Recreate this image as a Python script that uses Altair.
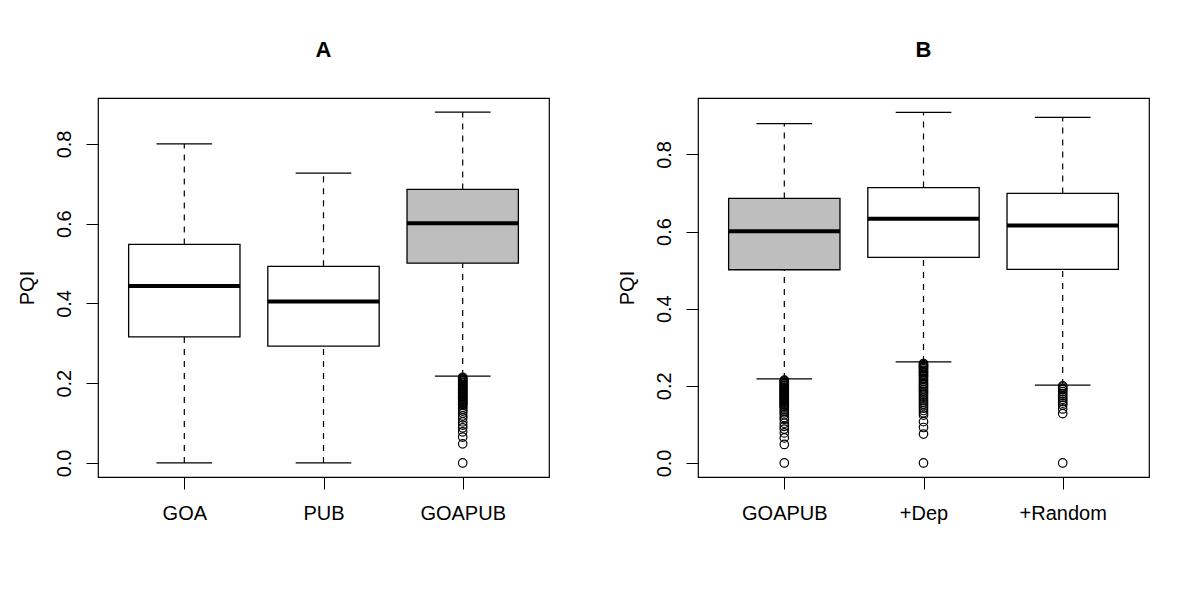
import altair as alt
import pandas as pd

FONT = "Liberation Sans"

# ---- Panel A data ----
cats_a = ["GOA", "PUB", "GOAPUB"]
a_q1 = [0.316, 0.293, 0.501]
a_med = [0.444, 0.405, 0.601]
a_q3 = [0.548, 0.493, 0.686]
a_lo = [0.0, 0.0, 0.218]
a_hi = [0.800, 0.727, 0.880]
a_fill = ["white", "white", "#bebebe"]

# ---- Panel B data ----
cats_b = ["GOAPUB", "+Dep", "+Random"]
b_q1 = [0.501, 0.533, 0.502]
b_med = [0.601, 0.633, 0.616]
b_q3 = [0.686, 0.714, 0.699]
b_lo = [0.218, 0.262, 0.202]
b_hi = [0.880, 0.909, 0.896]
b_fill = ["#bebebe", "white", "white"]

# ---- outliers ----
goapub_out = [0.215, 0.212, 0.210, 0.207, 0.205, 0.202, 0.200, 0.197, 0.195, 0.192,
              0.190, 0.187, 0.185, 0.182, 0.180, 0.177, 0.175, 0.172, 0.170, 0.167,
              0.165, 0.162, 0.160, 0.157, 0.155, 0.152, 0.150, 0.147, 0.145, 0.140,
              0.135, 0.130, 0.125, 0.118, 0.113, 0.103, 0.095, 0.088, 0.078, 0.065,
              0.048, 0.0]
dep_out = [0.258, 0.255, 0.252, 0.250, 0.247, 0.244, 0.240, 0.237, 0.234, 0.230,
           0.227, 0.224, 0.220, 0.216, 0.212, 0.207, 0.203, 0.199, 0.195, 0.190,
           0.186, 0.182, 0.178, 0.173, 0.168, 0.163, 0.158, 0.153, 0.148, 0.142,
           0.136, 0.130, 0.124, 0.107, 0.092, 0.075, 0.0]
rand_out = [0.200, 0.197, 0.193, 0.190, 0.185, 0.180, 0.175, 0.170, 0.165, 0.160,
            0.155, 0.150, 0.140, 0.128, 0.0]

y_ticks = [0.0, 0.2, 0.4, 0.6, 0.8]


def panel(title, cats, q1, med, q3, lo, hi, fill, outliers, ydom):
    stats = pd.DataFrame(dict(pos=[1, 2, 3], cat=cats, q1=q1, med=med, q3=q3,
                              lo=lo, hi=hi, fill=fill))
    out_rows = []
    for i, vals in enumerate(outliers):
        for v in vals:
            out_rows.append(dict(pos=i + 1, val=v))
    outl = pd.DataFrame(out_rows)

    xs = alt.Scale(domain=[0.38, 3.62], nice=False, zero=False)
    ys = alt.Scale(domain=ydom, nice=False, zero=False)
    lbl = "[" + ",".join("'%s'" % c for c in cats) + "][datum.value - 1]"
    xax = alt.Axis(values=[1, 2, 3], labelExpr=lbl, title=None, grid=False,
                   domain=False, tickSize=12, tickColor="black", tickWidth=1,
                   labelFontSize=20, labelColor="black", labelFont=FONT,
                   labelPadding=14)
    yax = alt.Axis(values=y_ticks, format=".1f", title="PQI", grid=False,
                   domain=False, tickSize=12, tickColor="black", tickWidth=1,
                   labelFontSize=20, labelColor="black", labelFont=FONT,
                   labelAngle=270, labelAlign="center", labelBaseline="bottom",
                   labelPadding=12, titleFontSize=20, titleFont=FONT,
                   titleFontWeight="normal", titleColor="black", titlePadding=17)

    def X(f):
        return alt.X(f, scale=xs, axis=xax)

    def Y(f):
        return alt.Y(f, scale=ys, axis=yax)

    base = alt.Chart(stats)
    wide = base.transform_calculate(xa="datum.pos - 0.4", xb="datum.pos + 0.4")
    cap = base.transform_calculate(xa="datum.pos - 0.2", xb="datum.pos + 0.2")

    w_up = base.mark_rule(color="black", strokeWidth=1.2, strokeDash=[6, 6]).encode(
        x=X("pos:Q"), y=Y("q3:Q"), y2="hi:Q")
    w_dn = base.mark_rule(color="black", strokeWidth=1.2, strokeDash=[6, 6]).encode(
        x=X("pos:Q"), y=Y("lo:Q"), y2="q1:Q")
    c_up = cap.mark_rule(color="black", strokeWidth=1.3).encode(
        x=X("xa:Q"), x2="xb:Q", y=Y("hi:Q"))
    c_dn = cap.mark_rule(color="black", strokeWidth=1.3).encode(
        x=X("xa:Q"), x2="xb:Q", y=Y("lo:Q"))
    box = wide.mark_rect(stroke="black", strokeWidth=1.3).encode(
        x=X("xa:Q"), x2="xb:Q", y=Y("q1:Q"), y2="q3:Q",
        fill=alt.Fill("fill:N", scale=None))
    medl = wide.mark_rule(color="black", strokeWidth=4).encode(
        x=X("xa:Q"), x2="xb:Q", y=Y("med:Q"))
    pts = alt.Chart(outl).mark_point(shape="circle", filled=False, size=72,
                                     color="black", strokeWidth=1.2, opacity=1).encode(
        x=X("pos:Q"), y=Y("val:Q"))

    return alt.layer(w_up, w_dn, c_up, c_dn, box, medl, pts).properties(
        width=451, height=379,
        title=alt.TitleParams(title, fontSize=22, fontWeight="bold", font=FONT,
                              color="black", offset=19, baseline="alphabetic",
                              anchor="middle"))


pa = panel("A", cats_a, a_q1, a_med, a_q3, a_lo, a_hi, a_fill,
           [[], [], goapub_out], [-0.0352, 0.9152])
pb = panel("B", cats_b, b_q1, b_med, b_q3, b_lo, b_hi, b_fill,
           [goapub_out, dep_out, rand_out], [-0.0364, 0.9464])

chart = alt.hconcat(pa, pb, spacing=66).properties(
    padding={"left": 8, "top": 30, "right": 0, "bottom": 0},
    background="white",
).configure_view(stroke="black", strokeWidth=1.2)

chart.save("out.html", embed_options={"renderer": "svg", "actions": False})
